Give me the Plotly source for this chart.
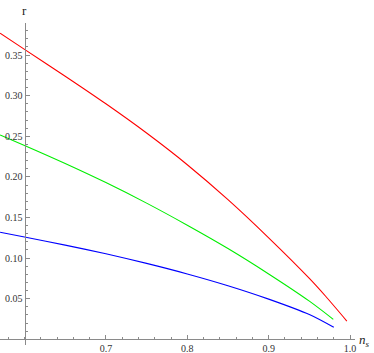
import plotly.graph_objects as go

# data
ns_red = [0.57, 0.60, 0.65, 0.70, 0.75, 0.80, 0.85, 0.90, 0.95, 0.97, 0.996]
r_red = [0.377, 0.357, 0.324, 0.290, 0.254, 0.215, 0.172, 0.125, 0.075, 0.053, 0.0225]

ns_green = [0.57, 0.60, 0.65, 0.70, 0.75, 0.80, 0.85, 0.90, 0.95, 0.9794]
r_green = [0.2516, 0.2387, 0.2165, 0.1930, 0.1677, 0.1405, 0.1118, 0.0805, 0.0470, 0.0246]

ns_blue = [0.57, 0.60, 0.65, 0.70, 0.75, 0.80, 0.85, 0.90, 0.95, 0.980]
r_blue = [0.1318, 0.126, 0.116, 0.1053, 0.0935, 0.0805, 0.0660, 0.0495, 0.0305, 0.0148]

x_ticks = [0.7, 0.8, 0.9, 1.0]
x_ticklabels = ["0.7", "0.8", "0.9", "1.0"]
y_ticks = [0.05, 0.10, 0.15, 0.20, 0.25, 0.30, 0.35]
y_ticklabels = ["0.05", "0.10", "0.15", "0.20", "0.25", "0.30", "0.35"]

x_minor = [round(0.58 + 0.02 * i, 2) for i in range(22)]
y_minor = [round(0.01 * i, 2) for i in range(1, 39)]

W, H = 374, 353
AX = "#8a8a8a"
TXT = "#333333"
font = "Liberation Serif"

fig = go.Figure()
for xs, ys, c in [(ns_red, r_red, "#ff0000"), (ns_green, r_green, "#00ee00"), (ns_blue, r_blue, "#0000ff")]:
    fig.add_trace(go.Scatter(x=xs, y=ys, mode="lines", line=dict(color=c, width=1.1, shape="spline", smoothing=0.8),
                             showlegend=False, hoverinfo="skip"))

fig.update_layout(
    width=W, height=H, margin=dict(l=0, r=0, t=0, b=0, autoexpand=False),
    paper_bgcolor="white", plot_bgcolor="white",
    font=dict(family=font),
    xaxis=dict(domain=[0, 354.7 / W], range=[0.5699, 1.0057], anchor="free", position=(H - 339.3) / H,
               automargin=False,
               showgrid=False, zeroline=False, showline=True, linecolor=AX, linewidth=1,
               tickmode="array", tickvals=x_ticks, ticktext=x_ticklabels, ticks="inside", ticklen=4,
               tickcolor=AX, tickfont=dict(family=font, size=10, color=TXT),
               minor=dict(tickmode="array", tickvals=x_minor, ticks="inside", ticklen=2.5, tickcolor=AX, showgrid=False)),
    yaxis=dict(domain=[(H - 345) / H, (H - 23) / H], range=[-0.00702, 0.38953], anchor="free",
               position=24.5 / W, automargin=False,
               showgrid=False, zeroline=False, showline=True, linecolor=AX, linewidth=1,
               tickmode="array", tickvals=y_ticks, ticktext=y_ticklabels, ticks="inside", ticklen=4,
               tickcolor=AX, tickfont=dict(family=font, size=10, color=TXT),
               minor=dict(tickmode="array", tickvals=y_minor, ticks="inside", ticklen=2.5, tickcolor=AX, showgrid=False)),
)

fig.add_annotation(text="r", xref="paper", yref="paper", x=24.5 / W, y=(H - 11) / H,
                   showarrow=False, font=dict(family=font, size=13, color="#222222"), xanchor="center", yanchor="middle")
fig.add_annotation(text="<i>n</i><sub><i>s</i></sub>", xref="paper", yref="paper", x=357 / W, y=(H - 340) / H,
                   showarrow=False, font=dict(family=font, size=13, color="#222222"), xanchor="left", yanchor="middle")

fig.write_html("out.html", config={"displayModeBar": False},
               post_script="document.body.style.margin='0';document.body.style.padding='0';")
